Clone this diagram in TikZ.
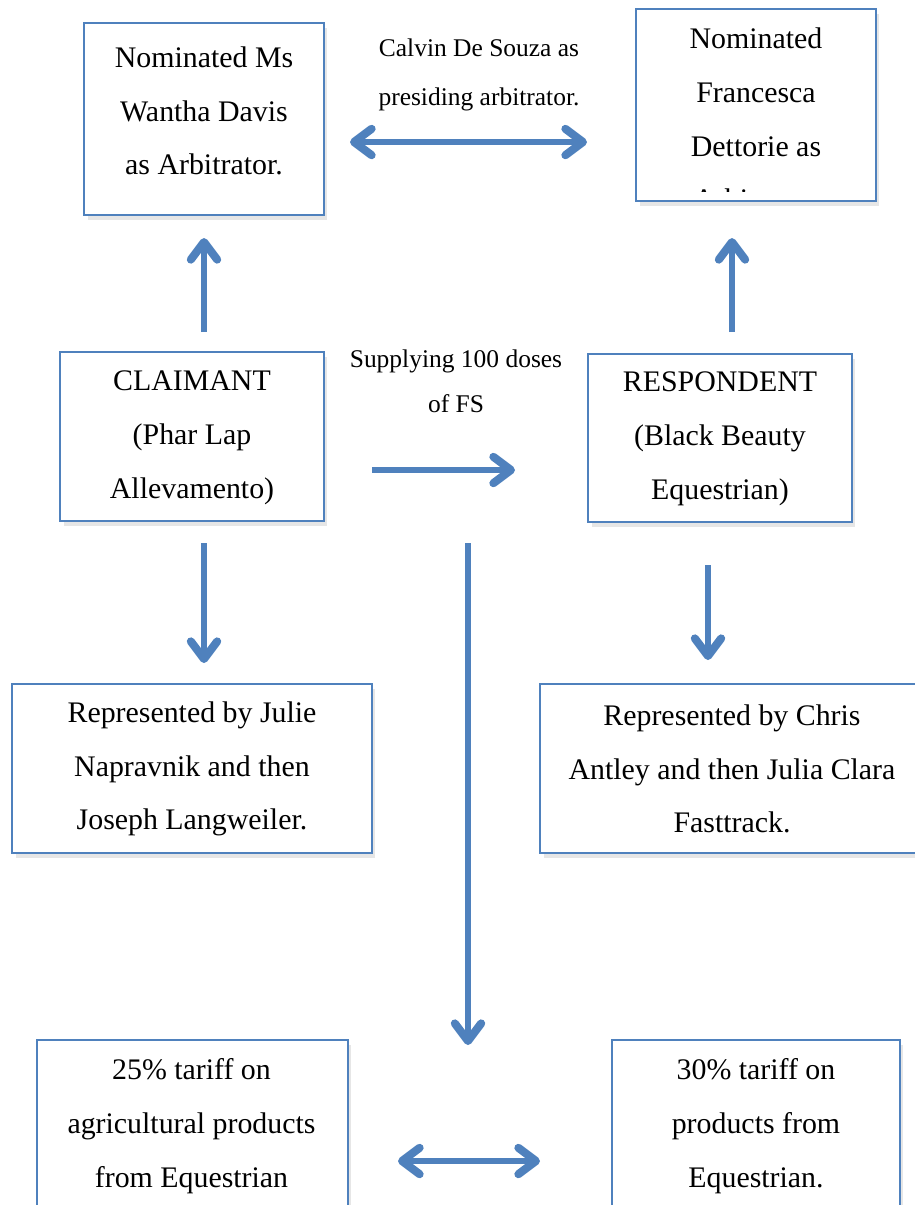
\documentclass[tikz,border=0pt]{standalone}
\usepackage{fontspec}
\setmainfont{Liberation Serif}
\usetikzlibrary{arrows.meta}
\usetikzlibrary{shadows}

\definecolor{boxblue}{RGB}{79,129,189}

\begin{document}
\begin{tikzpicture}[x=0.02cm,y=-0.02cm,
    box/.style={draw=boxblue,line width=1.2pt,fill=white,
        drop shadow={shadow xshift=2pt,shadow yshift=-3pt,opacity=0.2}},
    bigtext/.style={font=\fontsize{17}{30.6}\selectfont,align=center,inner sep=0pt},
    smalltext/.style={font=\fontsize{14.5}{28.3}\selectfont,align=center,inner sep=0pt},
    link/.style={boxblue,line width=3pt,-{Straight Barb[round,length=10pt,width=15pt,line width=4.6pt]}},
    twolink/.style={boxblue,line width=3pt,{Straight Barb[round,length=10pt,width=15pt,line width=4.6pt]}-{Straight Barb[round,length=10pt,width=15pt,line width=4.6pt]}}]

    % Fix the size of the picture
    \useasboundingbox (0,0) rectangle (915,1205);

    % Draw the boxes
    \node (nomClaim) [box,minimum width=4.8cm,minimum height=3.84cm] at (204,119) {};
    \node (nomResp) [box,minimum width=4.8cm,minimum height=3.84cm] at (756,105) {};
    \node (claim) [box,minimum width=5.28cm,minimum height=3.38cm] at (192,436.5) {};
    \node (resp) [box,minimum width=5.28cm,minimum height=3.36cm] at (720,438) {};
    \node (repClaim) [box,minimum width=7.2cm,minimum height=3.38cm] at (192,768.5) {};
    \node (repResp) [box,minimum width=7.68cm,minimum height=3.38cm] at (732,768.5) {};
    \node (tariffA) [box,minimum width=6.22cm,minimum height=3.8cm] at (192.5,1135) {};
    \node (tariffB) [box,minimum width=5.76cm,minimum height=3.8cm] at (756,1135) {};

    % Box texts
    \node (nomClaimTxt) [bigtext] at (204,111) {Nominated Ms\\Wantha Davis\\as Arbitrator.};
    \begin{scope}
        % last line is cut off by the box
        \clip (nomResp.north west) rectangle (876,191);
        \node (nomRespTxt) [bigtext] at (756,119) {Nominated\\Francesca\\Dettorie as\\Arbitrator.};
    \end{scope}
    \node (claimTxt) [bigtext] at (192,438) {CLAIMANT\\(Phar Lap\\Allevamento)};
    \node (respTxt) [bigtext] at (720,439) {RESPONDENT\\(Black Beauty\\Equestrian)};
    \node (repClaimTxt) [bigtext] at (192,769) {Represented by Julie\\Napravnik and then\\Joseph Langweiler.};
    \node (repRespTxt) [bigtext] at (732,769) {Represented by Chris\\Antley and then Julia Clara\\Fasttrack.};
    \node (tariffATxt) [bigtext] at (191.5,1126) {25\% tariff on\\agricultural products\\from Equestrian};
    \node (tariffBTxt) [bigtext] at (756,1126) {30\% tariff on\\products from\\Equestrian.};

    % Labels between the boxes
    \node (presiding) [smalltext] at (479,75) {Calvin De Souza as\\presiding arbitrator.};
    \node (supply) [smalltext,font=\fontsize{14.5}{25.5}\selectfont] at (456,381) {Supplying 100 doses\\of FS};

    % Arrow ends
    \coordinate (topL) at (350,142);
    \coordinate (topR) at (587,142);
    \coordinate (upLa) at (204,332);
    \coordinate (upLb) at (204,238);
    \coordinate (upRa) at (732,332);
    \coordinate (upRb) at (732,238);
    \coordinate (midL) at (372,470);
    \coordinate (midR) at (515,470);
    \coordinate (downLa) at (204,543);
    \coordinate (downLb) at (204,663);
    \coordinate (downRa) at (708,565);
    \coordinate (downRb) at (708,660);
    \coordinate (downMa) at (468,543);
    \coordinate (downMb) at (468,1045);
    \coordinate (botL) at (398,1161);
    \coordinate (botR) at (540,1161);

    % Draw arrows
    \draw[twolink] (topL) -- (topR);
    \draw[link] (upLa) -- (upLb);
    \draw[link] (upRa) -- (upRb);
    \draw[link] (midL) -- (midR);
    \draw[link] (downLa) -- (downLb);
    \draw[link] (downRa) -- (downRb);
    \draw[link] (downMa) -- (downMb);
    \draw[twolink] (botL) -- (botR);

\end{tikzpicture}
\end{document}
